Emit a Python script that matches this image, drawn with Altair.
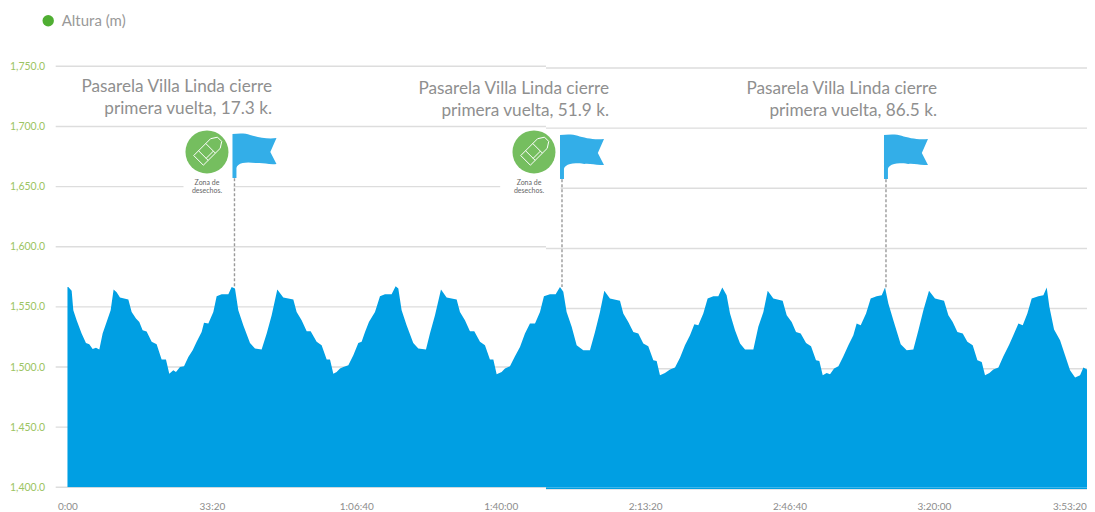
import altair as alt
import pandas as pd

seconds = [0,12,58,81,127,196,256,302,349,395,441,487,542,598,639,681,727,843,889,949,995,1041,1096,1166,1235,1304,1364,1410,1466,1503,1558,1614,1674,1734,1789,1858,1891,1951,2020,2066,2135,2228,2274,2320,
2366,2435,2528,2597,2689,2759,2828,2906,2989,3128,3174,3243,3313,3368,3451,3520,3590,3636,3682,3728,3774,3821,3890,3959,4028,4074,4121,
4175,4259,4328,4397,4489,4545,4582,4628,4697,4789,4859,4965,5020,5090,5173,5251,5390,5436,5505,5574,5634,5713,5782,5851,5898,5944,6013,6059,6128,6198,6267,6336,6405,6475,6544,6599,6682,6761,6821,6867,6913,6983,7052,7144,7236,7306,7375,7435,7513,7652,7698,7767,7837,7906,7975,8044,8114,8160,8206,8275,8345,8414,8483,8552,8622,8682,8737,8806,8866,8945,9014,9069,9129,9176,
9245,9315,9384,9499,9568,9638,9698,9776,9905,9961,10030,10090,10155,10229,10298,10367,10413,10460,10515,10561,10617,10677,10746,10815,10884,10930,10986,11060,11124,11207,11277,11323,11369,11438,11540,11623,11715,11785,11854,11932,12015,12140,12200,12260,12325,12399,12463,12537,12602,12662,12708,12768,12823,12893,12962,13045,13100,13170,13230,13294,13354,13447,13516,13562,13599,13664,13747,13816,13885,13955,14024,14070,14139,14231]
altura = [1566.6,1566.6,1563.3,1547.2,1538.9,1527.8,1520,1519,1515,1516,1514.5,1527.8,1537.5,1547.2,1564.4,1562.2,1557.8,1556.1,1545.8,1540.3,1537.5,1530.6,1529.5,1520.9,1519,1506.2,1506.2,1494.5,1497.3,1495.9,1500,1500.6,1508.4,1514,1520.9,1529.2,1536.7,1536.1,1545.8,1558.9,1560.5,1560.5,1566.6,1565.2,
1547.2,1534.7,1520,1515.3,1514.5,1527.8,1543.1,1564.4,1557.8,1556.1,1545.8,1538.9,1529.8,1529.8,1520.9,1518.1,1506.2,1506.2,1494.5,1495.9,1498.7,1500,1501.5,1509.8,1520,1520.9,1529.2,
1537.5,1545.8,1558.9,1560.5,1560.5,1567.2,1565.2,1547.2,1534.7,1520,1515.3,1514.5,1527.8,1543.1,1564.4,1557.8,1556.1,1545.8,1538.9,1529.8,1529.8,1520.9,1518.1,1506.2,1506.2,1494,1495.9,1498.7,1500.6,1509,1516.7,1527.8,1536.1,1536.1,1545.8,1558.9,1560.5,1560.5,1566.6,1562.5,1545.8,1533.4,1518.1,1514,1514,1529.2,1545.8,1563.3,1556.9,1555,1544.5,1537.5,1529.2,1527.8,1519.5,1517.3,1505.6,1505.1,1493.2,1495.1,1497.9,1499.5,1507.8,1518.1,1526.4,1535.6,1534.7,1544.5,1556.9,1558.9,1558.9,1566.1,1559.7,1544.5,
1530.6,1519.5,1514.5,1514.5,1533.4,1545.8,1563.3,1556.9,1555,1543.1,1537.5,1529.2,1527.8,1520,1517.3,1505.6,1505.1,1493.2,1495.1,1494,1498.7,1500.6,1509,1518.1,1526.4,1536.1,1534.7,1544.5,1556.9,1558.9,1559.7,1566.1,1552.8,1538.9,1518.9,1514,1514.5,1530.6,1547.2,1563.3,1556.9,1555,1543.1,1537.5,1529.2,1527.8,1520.9,1518.1,1505.6,1504.2,1493.2,1495.1,1497.9,1499.5,1509,1518.9,1526.4,1536.1,1534.7,1544.5,1556.9,1558.9,1559.7,1566.1,1550,1531.1,1522.3,1509.8,1497.3,1491.2,1493.2,1499.5,1497.3,1495.9]

y_ticks = [1400,1450,1500,1550,1600,1650,1700,1750]
x_ticks = [0,2000,4000,6000,8000,10000,12000,14000]
x_labels = ["0:00","33:20","1:06:40","1:40:00","2:13:20","2:46:40","3:20:00","3:53:20"]

flag_t = [2313,6849,11336]
flag_peak = [1566.6,1566.6,1566.1]
flag_top = [1657,1656,1656]
flag_mid = [1675.4,1674.6,1674.6]

note_t = [2832,7500,12043]
note_line1 = ["Pasarela Villa Linda cierre"]*3
note_line2 = ["primera vuelta, 17.3 k.","primera vuelta, 51.9 k.","primera vuelta, 86.5 k."]
note_y1 = [1733,1731,1731]
note_y2 = [1714.7,1713,1713]

zone_t = [1932,6461]
zone_y = [1678.8,1678.8]
zone_label_t = [1932,6392]
zone_line1 = ["Zona de","Zona de"]
zone_line2 = ["desechos.","desechos."]
zone_y1 = [1653,1653]
zone_y2 = [1646.5,1646.5]
gap_t = [1607,5993]
gap_t2 = [2300,6830]
gap_low = [1642,1642]
gap_high = [1656,1656]

seam_t = 6627
x_min, x_max = -163, 14120

FONT = "Lato"
BLUE = "#009FE3"
GRID = "#DDDDDD"

xscale = alt.Scale(domain=[x_min, x_max], nice=False, zero=False)
yscale = alt.Scale(domain=[1400, 1750], nice=False, zero=False)
label_expr = "[" + ",".join(f"'{s}'" for s in x_labels) + "][datum.value/2000]"
last_test = f"datum.value === {x_ticks[-1]}"
xaxis = alt.Axis(values=x_ticks, labelExpr=label_expr, title=None, grid=False, ticks=False,
                 domain=False, labelFont=FONT, labelFontSize=10, labelColor="#8c8c8c",
                 labelPadding=14, labelOverlap=False, labelFlush=False,
                 labelAlign={"condition": {"test": last_test, "value": "right"}, "value": "center"},
                 labelOffset={"condition": {"test": last_test, "value": 8}, "value": 0})
yaxis = alt.Axis(values=y_ticks, format=",.1f", title=None, grid=False, ticks=False, domain=False,
                 labelFont=FONT, labelFontSize=10.5, labelColor="#9CC463", labelPadding=11,
                 labelOverlap=False)
X = alt.X("t:Q", scale=xscale, axis=xaxis)
Y = alt.Y("v:Q", scale=yscale, axis=yaxis)

# Gridlines, in the two halves of the pasted picture
grid_l = pd.DataFrame({"v": y_ticks, "t": [x_min]*8, "t2": [seam_t]*8})
grid_r = pd.DataFrame({"v": y_ticks, "t": [seam_t]*8, "t2": [x_max]*8})
g1 = alt.Chart(grid_l).mark_rule(color=GRID, strokeWidth=1.4).encode(x=X, x2="t2:Q", y=Y)
g2 = alt.Chart(grid_r).mark_rule(color=GRID, strokeWidth=1.4, yOffset=1.7).encode(x=X, x2="t2:Q", y=Y)

gaps = alt.Chart(pd.DataFrame({"t": gap_t, "t2": gap_t2, "v": gap_low, "v2": gap_high})).mark_rect(
    color="white").encode(x=X, x2="t2:Q", y=Y, y2="v2:Q")

profile = pd.DataFrame({"t": seconds, "v": altura, "base": [1400]*len(seconds)})
area = alt.Chart(profile).mark_area(color=BLUE, opacity=1, clip=True).encode(x=X, y=Y, y2="base:Q")
edge = alt.Chart(pd.DataFrame({"t": [seam_t], "t2": [x_max], "v": [1400]})).mark_rule(
    color=BLUE, strokeWidth=1.6, yOffset=0.8).encode(x=X, x2="t2:Q", y=Y)

flags = pd.DataFrame({"t": flag_t, "v": flag_top, "v2": flag_peak, "m": flag_mid})
dash = alt.Chart(flags).mark_rule(color="#9a9a9a", strokeWidth=1.4, strokeDash=[3, 2]).encode(
    x=X, y=Y, y2="v2:Q")
FLAG = ("M-.5,-.5 C-.35,-.52 -.2,-.52 -.1,-.48 C.05,-.43 .3,-.38 .5,-.41 L.36,-.09 L.5,.18 "
        "C.3,.2 .2,.14 .05,.16 C-.1,.14 -.2,.14 -.27,.16 C-.35,.18 -.4,.22 -.41,.27 L-.41,.5 L-.5,.5 Z")
flag = alt.Chart(flags).mark_point(shape=FLAG, filled=True, color="#33AEE8", opacity=1, size=7744,
                                   xOffset=20).encode(x=X, y=alt.Y("m:Q", scale=yscale, axis=yaxis))

zones = pd.DataFrame({"t": zone_t, "v": zone_y})
circle = alt.Chart(zones).mark_point(shape="circle", filled=True, color="#75BE5F", opacity=1, size=1849).encode(x=X, y=Y)
BOTTLE = ("M.084,-.308 L.245,-.343 L.343,-.245 L.308,-.084 L-.084,.308 L-.308,.084 Z "
          "M.196,.028 L-.028,-.196 M.028,.196 L-.196,-.028 M.15,-.02 L-.02,.15")
bottle = alt.Chart(zones).mark_point(shape=BOTTLE, filled=False, stroke="white", strokeWidth=1,
                                     opacity=1, size=7396).encode(x=X, y=Y)

def text_layer(ts, vs, labels, size, color, align):
    return alt.Chart(pd.DataFrame({"t": ts, "v": vs, "s": labels})).mark_text(
        font=FONT, fontSize=size, color=color, align=align, baseline="middle").encode(x=X, y=Y, text="s:N")

n1 = text_layer(note_t, note_y1, note_line1, 17.2, "#8f8f8f", "right")
n2 = text_layer(note_t, note_y2, note_line2, 17.2, "#8f8f8f", "right")
z1 = text_layer(zone_label_t, zone_y1, zone_line1, 7, "#666666", "center")
z2 = text_layer(zone_label_t, zone_y2, zone_line2, 7, "#666666", "center")

legend = alt.Chart(pd.DataFrame({"t": [0], "v": [1400], "s": ["Altura (m)"]})).mark_point(
    filled=True, size=0, opacity=1).encode(
    x=X, y=Y,
    color=alt.Color("s:N", scale=alt.Scale(domain=["Altura (m)"], range=["#4FAE32"]),
                    legend=alt.Legend(title=None, orient="none", legendX=-15, legendY=-53,
                                      symbolType="circle", symbolSize=130, symbolOpacity=1,
                                      labelFont=FONT, labelFontSize=15, labelColor="#999999",
                                      labelOffset=6, padding=0)))

chart = alt.layer(g1, g2, gaps, area, edge, dash, flag, circle, bottle, n1, n2, z1, z2, legend).properties(
    width=1031.3, height=421,
    autosize=alt.AutoSizeParams(type="none"),
    padding={"left": 47.7, "top": 58.3, "right": 0, "bottom": 24},
    background="white",
).configure_view(stroke=None)

chart.save("out.html", embed_options={"renderer": "svg", "actions": False})
